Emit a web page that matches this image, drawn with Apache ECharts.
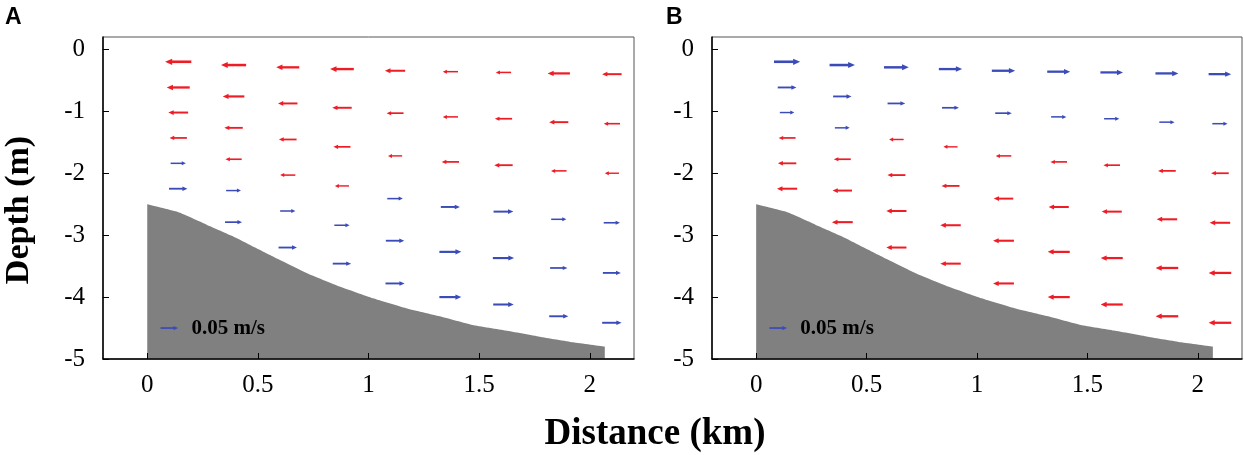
<!DOCTYPE html>
<html>

<head>
    <title>Velocity Vectors Over Slope</title>
    <meta charset="utf-8">
    <script src="https://cdn.jsdelivr.net/npm/echarts@6/dist/echarts.min.js"></script>
    <style>
        body { margin: 0; background: #fff; }
    </style>
</head>

<body>
    <div id="quiver" style="width: 1244px;height:455px;"></div>
    <script>
        // station positions (km) and the depth of each of the 6 layers (m)
        var stationX = [0.14, 0.39, 0.635, 0.88, 1.12, 1.37, 1.61, 1.86, 2.1];
        var layerDepth = [
            [-0.2, -0.615, -1.02, -1.43, -1.84, -2.25],
            [-0.253, -0.76, -1.267, -1.774, -2.28, -2.79],
            [-0.29, -0.873, -1.455, -2.03, -2.61, -3.2],
            [-0.318, -0.943, -1.574, -2.205, -2.84, -3.46],
            [-0.345, -1.03, -1.72, -2.41, -3.09, -3.78],
            [-0.36, -1.09, -1.817, -2.545, -3.27, -4.0],
            [-0.372, -1.12, -1.87, -2.62, -3.37, -4.12],
            [-0.388, -1.175, -1.962, -2.744, -3.53, -4.31],
            [-0.4, -1.2, -2.0, -2.8, -3.61, -4.415]
        ];
        // horizontal velocity (m/s), positive = seaward
        var uA = [
            [-0.074, -0.065, -0.056, -0.049, 0.043, 0.052],
            [-0.071, -0.061, -0.052, -0.046, 0.042, 0.048],
            [-0.065, -0.055, -0.050, -0.043, 0.043, 0.052],
            [-0.067, -0.055, -0.048, -0.040, 0.043, 0.052],
            [-0.057, -0.048, -0.040, 0.044, 0.052, 0.054],
            [-0.043, -0.043, -0.049, 0.054, 0.062, 0.062],
            [-0.043, -0.049, -0.052, 0.056, 0.060, 0.058],
            [-0.063, -0.054, -0.044, 0.043, 0.049, 0.054],
            [-0.055, -0.046, -0.040, 0.046, 0.051, 0.055]
        ];
        var uB = [
            [0.074, 0.053, 0.041, -0.048, -0.052, -0.057],
            [0.072, 0.052, 0.042, -0.048, -0.055, -0.059],
            [0.070, 0.050, -0.041, -0.051, -0.057, -0.057],
            [0.066, 0.048, -0.040, -0.051, -0.058, -0.058],
            [0.066, 0.047, -0.044, -0.055, -0.059, -0.059],
            [0.065, 0.043, -0.047, -0.057, -0.0625, -0.0625],
            [0.064, 0.043, -0.047, -0.057, -0.0625, -0.0625],
            [0.065, 0.043, -0.050, -0.058, -0.064, -0.064],
            [0.064, 0.043, -0.050, -0.058, -0.064, -0.064]
        ];
        // bottom profile
        var bedX = [0, 0.133, 0.268, 0.389, 0.494, 0.6, 0.72, 0.87, 1.02, 1.17, 1.322, 1.47, 1.62, 1.774, 1.925, 2.068];
        var bedZ = [-2.5, -2.62, -2.83, -3.02, -3.21, -3.40, -3.61, -3.83, -4.02, -4.18, -4.31, -4.45, -4.54, -4.64, -4.73, -4.80];
        var scaleArrow = [[0.1, -4.5, 0.05]];
        var xTicks = [0, 0.5, 1, 1.5, 2];
        var yTicks = [-5, -4, -3, -2, -1, 0];

        var RED = '#ee1c25';
        var BLUE = '#3b4cb8';
        var KM_PER_MS = 1.6; // arrow length: 0.05 m/s ~ 0.08 km on the x axis
        var SERIF = "'Times New Roman', 'Liberation Serif', 'DejaVu Serif', serif";
        var X_MIN = -0.2, Y_MIN = -5;

        function buildArrows(u) {
            var out = [];
            stationX.forEach(function (x, i) {
                layerDepth[i].forEach(function (d, j) {
                    out.push([x, d, u[i][j]]);
                });
            });
            return out;
        }

        function arrowShape(api, x, y, u, color, lwMin) {
            var half = u * KM_PER_MS / 2;
            var tail = api.coord([x - half, y]);
            var tip = api.coord([x + half, y]);
            var len = Math.abs(tip[0] - tail[0]);
            var dir = u >= 0 ? 1 : -1;
            var lw = Math.max(lwMin, len * 0.1);
            var hl = Math.max(4, len * 0.27);
            var hw = Math.max(4, len * 0.24);
            return [
                {
                    type: 'line',
                    shape: { x1: tail[0], y1: tail[1], x2: tip[0] - dir * hl * 0.7, y2: tip[1] },
                    style: { stroke: color, lineWidth: lw }
                },
                {
                    type: 'polygon',
                    shape: { points: [[tip[0], tip[1]], [tip[0] - dir * hl, tip[1] - hw / 2], [tip[0] - dir * hl, tip[1] + hw / 2]] },
                    style: { fill: color }
                }
            ];
        }

        function renderArrow(params, api) {
            var u = api.value(2);
            return {
                type: 'group',
                children: arrowShape(api, api.value(0), api.value(1), u, u >= 0 ? BLUE : RED, 1.2)
            };
        }

        function renderScale(params, api) {
            var children = arrowShape(api, api.value(0), api.value(1), api.value(2), BLUE, 1.2);
            var p = api.coord([api.value(0) + 0.1, api.value(1)]);
            children.push({
                type: 'text',
                x: p[0], y: p[1] + 1,
                style: {
                    text: '0.05 m/s', fill: '#000', font: 'bold 21px ' + SERIF,
                    textAlign: 'left', textVerticalAlign: 'middle'
                }
            });
            return { type: 'group', children: children };
        }

        // tick labels drawn through the axis scales (serif font)
        function renderXLabel(params, api) {
            var v = api.value(0);
            var p = api.coord([v, Y_MIN]);
            return {
                type: 'text', x: p[0], y: p[1] + 14,
                style: { text: String(v), fill: '#000', font: '25px ' + SERIF, textAlign: 'center', textVerticalAlign: 'top' }
            };
        }

        function renderYLabel(params, api) {
            var v = api.value(1);
            var p = api.coord([X_MIN, v]);
            return {
                type: 'text', x: p[0] - 18, y: p[1],
                style: { text: String(v), fill: '#000', font: '25px ' + SERIF, textAlign: 'right', textVerticalAlign: 'middle' }
            };
        }

        var bed = bedX.map(function (x, i) { return [x, bedZ[i]]; });

        function xAxisFor(idx) {
            return {
                gridIndex: idx, type: 'value', min: X_MIN, max: 2.2, z: 10,
                axisLine: { show: true, onZero: false, lineStyle: { color: '#000', width: 1.5 } },
                axisTick: { show: true, inside: true, length: 6, customValues: xTicks, lineStyle: { color: '#000' } },
                axisLabel: { show: false },
                splitLine: { show: false }
            };
        }

        function yAxisFor(idx) {
            return {
                gridIndex: idx, type: 'value', min: Y_MIN, max: 0.2, z: 10,
                axisLine: { show: true, onZero: false, lineStyle: { color: '#000', width: 1.5 } },
                axisTick: { show: true, inside: true, length: 6, customValues: yTicks, lineStyle: { color: '#000' } },
                axisLabel: { show: false },
                splitLine: { show: false }
            };
        }

        function seriesFor(idx, u) {
            return [
                {
                    type: 'line', xAxisIndex: idx, yAxisIndex: idx, data: bed,
                    showSymbol: false, silent: true, z: 1, smooth: 0.15,
                    lineStyle: { width: 0 },
                    areaStyle: { color: '#808080', opacity: 1, origin: 'start' }
                },
                {
                    type: 'custom', xAxisIndex: idx, yAxisIndex: idx, z: 3,
                    renderItem: renderArrow, data: buildArrows(u), silent: true
                },
                {
                    type: 'custom', xAxisIndex: idx, yAxisIndex: idx, z: 3,
                    renderItem: renderScale, data: scaleArrow, silent: true
                },
                {
                    type: 'custom', xAxisIndex: idx, yAxisIndex: idx, z: 3, clip: false,
                    renderItem: renderXLabel, data: xTicks.map(function (v) { return [v, Y_MIN]; }), silent: true
                },
                {
                    type: 'custom', xAxisIndex: idx, yAxisIndex: idx, z: 3, clip: false,
                    renderItem: renderYLabel, data: yTicks.map(function (v) { return [X_MIN, v]; }), silent: true
                }
            ];
        }

        var chart = echarts.init(document.getElementById('quiver'));
        var option = {
            animation: false,
            grid: [
                { left: 103, top: 37, width: 531, height: 322, show: true, borderColor: '#555', borderWidth: 1 },
                { left: 712, top: 37, width: 530, height: 322, show: true, borderColor: '#555', borderWidth: 1 }
            ],
            xAxis: [xAxisFor(0), xAxisFor(1)],
            yAxis: [yAxisFor(0), yAxisFor(1)],
            series: seriesFor(0, uA).concat(seriesFor(1, uB)),
            graphic: [
                { type: 'text', x: 5, y: 6, style: { text: 'A', fill: '#000', font: 'bold 23px "Liberation Sans", Arial, sans-serif' } },
                { type: 'text', x: 666, y: 6, style: { text: 'B', fill: '#000', font: 'bold 23px "Liberation Sans", Arial, sans-serif' } },
                {
                    type: 'text', x: 19, y: 210, rotation: Math.PI / 2,
                    style: { text: 'Depth (m)', fill: '#000', font: 'bold 34px ' + SERIF, textAlign: 'center', textVerticalAlign: 'middle' }
                },
                {
                    type: 'text', x: 655, y: 434,
                    style: { text: 'Distance (km)', fill: '#000', font: 'bold 37px ' + SERIF, textAlign: 'center', textVerticalAlign: 'middle' }
                }
            ]
        };
        chart.setOption(option);
    </script>
</body>

</html>
